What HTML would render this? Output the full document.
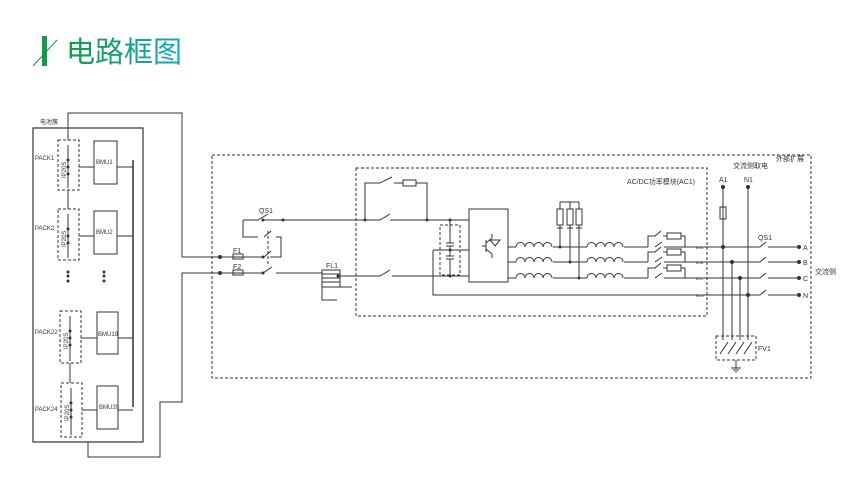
<!DOCTYPE html>
<html><head><meta charset="utf-8"><style>
body{margin:0;background:#fff;width:856px;height:500px;overflow:hidden}
svg{display:block}
text{font-family:"Liberation Sans","Noto Sans CJK SC",sans-serif;fill:#333}
</style></head><body>
<svg width="856" height="500" viewBox="0 0 856 500" xmlns="http://www.w3.org/2000/svg">
<defs>
<linearGradient id="g" x1="0" x2="1"><stop offset="0" stop-color="#14994a"/><stop offset="1" stop-color="#19a9c0"/></linearGradient>
</defs>
<!-- title -->
<rect x="42" y="36" width="5" height="30" fill="#14994a"/>
<line x1="33" y1="66" x2="57" y2="40" stroke="#14994a" stroke-width="1"/>
<text x="66" y="62" font-size="29" style="fill:url(#g)">电路框图</text>

<g fill="none" stroke="#333" stroke-width="1">
<!-- battery cabinet -->
<rect x="33" y="128" width="110" height="314" stroke-width="1.2"/>
<path d="M68 140V113H182V257H220"/>
<path d="M88 442V457H160V402H182V273H220"/>
<line x1="133" y1="160" x2="133" y2="407" stroke-width="1.5"/>
<!-- packs -->
<g stroke-dasharray="3,2">
<rect x="58" y="140" width="21" height="50"/>
<rect x="58" y="209" width="21" height="51"/>
<rect x="60" y="311" width="21" height="52"/>
<rect x="61" y="383" width="21" height="54"/>
</g>
<rect x="94" y="141" width="23" height="43"/>
<rect x="94" y="211" width="23" height="43"/>
<rect x="97" y="312" width="21" height="42"/>
<rect x="97" y="386" width="21" height="43"/>
<path d="M79 167H94M117 167H133M79 236H94M117 236H133M81 338H97M118 338H133M82 410H97M118 410H133"/>
<path d="M68 190V209M70 363V383"/>
<path d="M68 145V188M68 214V258M70 316V361M71 388V435"/>
</g>
<g fill="#333">
<circle cx="68" cy="160" r="1.5"/><circle cx="68" cy="167" r="1.5"/><circle cx="68" cy="174" r="1.5"/>
<circle cx="68" cy="229" r="1.5"/><circle cx="68" cy="236" r="1.5"/><circle cx="68" cy="243" r="1.5"/>
<circle cx="70" cy="331" r="1.5"/><circle cx="70" cy="338" r="1.5"/><circle cx="70" cy="345" r="1.5"/>
<circle cx="71" cy="403" r="1.5"/><circle cx="71" cy="410" r="1.5"/><circle cx="71" cy="417" r="1.5"/>
<circle cx="68" cy="272" r="1.5"/><circle cx="68" cy="276" r="1.5"/><circle cx="68" cy="281" r="1.5"/>
<circle cx="104" cy="272" r="1.5"/><circle cx="104" cy="276" r="1.5"/><circle cx="104" cy="281" r="1.5"/>
</g>
<g font-size="6">
<text x="40" y="124">电池簇</text>
<text x="35" y="160">PACK1</text><text x="35" y="230">PACK2</text>
<text x="35" y="334">PACK22</text><text x="35" y="411">PACK24</text>
<text x="96" y="164">BMU1</text><text x="96" y="234">BMU2</text>
<text x="98" y="336">BMU19</text><text x="99" y="409">BMU20</text>
<text transform="translate(66,178) rotate(-90)">IP20S</text>
<text transform="translate(66,247) rotate(-90)">IP20S</text>
<text transform="translate(68,349) rotate(-90)">IP20S</text>
<text transform="translate(69,421) rotate(-90)">IP20S</text>
</g>

<g fill="none" stroke="#333" stroke-width="1">
<rect x="212" y="155" width="599" height="223" stroke-dasharray="3,2"/>
<rect x="356" y="168" width="351" height="148" stroke-dasharray="3,2"/>
<!-- F1 F2 rows -->
<path d="M220 257H262M220 273H262"/>
<rect x="233" y="254" width="10" height="5"/><rect x="233" y="270" width="10" height="5"/>
<!-- QS1 -->
<path d="M243 220V237H258M263 220H355M243 220H258M258 220L268 214"/>
<path d="M264 237L271 231M276 237H281V257H270M264 257L271 251M263 273L272 267M276 273H322"/>
<path d="M268 231V266" stroke-dasharray="3,2"/>
<!-- main DC lines -->
<path d="M355 220H380M390 220H469M380 220L390 214"/>
<path d="M365 220V183H380L392 177M394 183H403M416 183H427V220"/>
<rect x="403" y="180" width="13" height="6"/>
<rect x="322" y="270" width="18" height="17"/><path d="M322 274H340M322 278H340M322 282H340M340 287H352M322 287V300H337"/>
<path d="M340 276H380M380 276L390 270M392 276H469"/>
<rect x="440" y="225" width="20" height="50" stroke-dasharray="3,2"/>
<path d="M450 220V243M446 243H454M446 246H454M450 246V256M446 256H454M446 259H454M450 259V276M433 250H469M433 250V295H738"/>
<rect x="469" y="209" width="39" height="73"/>
<path d="M482 246H486M486 240V252M486 243L492 238M486 249L492 254M492 238V234M492 254V258M495 246L500 240H490Z"/>
<!-- phases -->
<path d="M508 247H516M553 247H587M624 247H648M508 262H516M553 262H587M624 262H648M508 278H516M553 278H587M624 278H648"/>
<path d="M516 247a4.5 4.5 0 0 1 9 0a4.5 4.5 0 0 1 9 0a4.5 4.5 0 0 1 9 0a4.5 4.5 0 0 1 9 0M587 247a4.5 4.5 0 0 1 9 0a4.5 4.5 0 0 1 9 0a4.5 4.5 0 0 1 9 0a4.5 4.5 0 0 1 9 0"/>
<path d="M516 262a4.5 4.5 0 0 1 9 0a4.5 4.5 0 0 1 9 0a4.5 4.5 0 0 1 9 0a4.5 4.5 0 0 1 9 0M587 262a4.5 4.5 0 0 1 9 0a4.5 4.5 0 0 1 9 0a4.5 4.5 0 0 1 9 0a4.5 4.5 0 0 1 9 0"/>
<path d="M516 278a4.5 4.5 0 0 1 9 0a4.5 4.5 0 0 1 9 0a4.5 4.5 0 0 1 9 0a4.5 4.5 0 0 1 9 0M587 278a4.5 4.5 0 0 1 9 0a4.5 4.5 0 0 1 9 0a4.5 4.5 0 0 1 9 0a4.5 4.5 0 0 1 9 0"/>
<path d="M560 202H579M560 202V209M570 202V209M579 202V209M560 225V247M570 225V262M579 225V278M557 228H563M567 228H573M576 228H582"/>
<rect x="557" y="209" width="6" height="16"/><rect x="567" y="209" width="6" height="16"/><rect x="576" y="209" width="6" height="16"/>
<!-- bypass switches -->
<path d="M648 247V236H655L661 231M663 236H667M681 236H685V247M655 247L662 242M664 247H685"/>
<rect x="667" y="233" width="14" height="6"/>
<path d="M648 262V252H655L661 247M663 252H667M681 252H685V262M655 262L662 257M664 262H685"/>
<rect x="667" y="249" width="14" height="6"/>
<path d="M648 278V268H655L661 263M663 268H667M681 268H685V278M655 278L662 273M664 278H685"/>
<rect x="667" y="265" width="14" height="6"/>
<path d="M685 247H760M685 262H760M685 278H760M738 295H760M768 247H797M768 262H797M768 278H797M768 295H797"/>
<path d="M760 247L766 242M760 262L766 257M760 278L766 273M760 295L766 290"/>
<!-- A1 N1 drops -->
<path d="M723 188V340M748 188V340M732 262V340M740 278V340"/>
<rect x="720" y="207" width="6" height="12"/>
<rect x="716" y="336" width="40" height="24" stroke-dasharray="3,2"/>
<path d="M720 354L728 342M728 354L736 342M736 354L744 342M744 354L752 342M736 360V368M731 368H741M733 370H739M735 372H737"/>
</g>
<g fill="#333">
<circle cx="220" cy="257" r="2"/><circle cx="220" cy="273" r="2"/>
<circle cx="263" cy="220" r="1.5"/><circle cx="263" cy="257" r="1.5"/><circle cx="263" cy="273" r="1.5"/><circle cx="283" cy="220" r="1.5"/><circle cx="338" cy="276" r="1.5"/>
<circle cx="365" cy="220" r="1.5"/><circle cx="427" cy="220" r="1.5"/><circle cx="450" cy="220" r="1.5"/><circle cx="450" cy="250" r="1.5"/><circle cx="450" cy="276" r="1.5"/>
<circle cx="560" cy="247" r="1.5"/><circle cx="570" cy="262" r="1.5"/><circle cx="579" cy="278" r="1.5"/>
<circle cx="723" cy="247" r="2"/><circle cx="732" cy="262" r="2"/><circle cx="740" cy="278" r="2"/><circle cx="748" cy="295" r="2"/>
<circle cx="723" cy="187" r="2"/><circle cx="748" cy="187" r="2"/>
<circle cx="799" cy="247" r="2"/><circle cx="799" cy="262" r="2"/><circle cx="799" cy="278" r="2"/><circle cx="799" cy="295" r="2"/>
</g>
<g font-size="7">
<text x="259" y="213">QS1</text><text x="233" y="253">F1</text><text x="233" y="269">F2</text><text x="326" y="268">FL1</text>
<text x="695" y="184" text-anchor="end">AC/DC功率模块(AC1)</text>
<text x="733" y="168">交流侧取电</text><text x="776" y="161">外部扩展</text>
<text x="719" y="182">A1</text><text x="744" y="182">N1</text>
<text x="758" y="240">QS1</text><text x="758" y="351">FV1</text>
<text x="803" y="250">A</text><text x="803" y="265">B</text><text x="803" y="281">C</text><text x="803" y="298">N</text>
<text x="815" y="274">交流侧</text>
</g>
<g font-size="3.5"><text x="696" y="249">BOA</text><text x="696" y="264">BOB</text><text x="696" y="280">BOC</text><text x="696" y="297">BON</text></g>
</svg>
</body></html>
